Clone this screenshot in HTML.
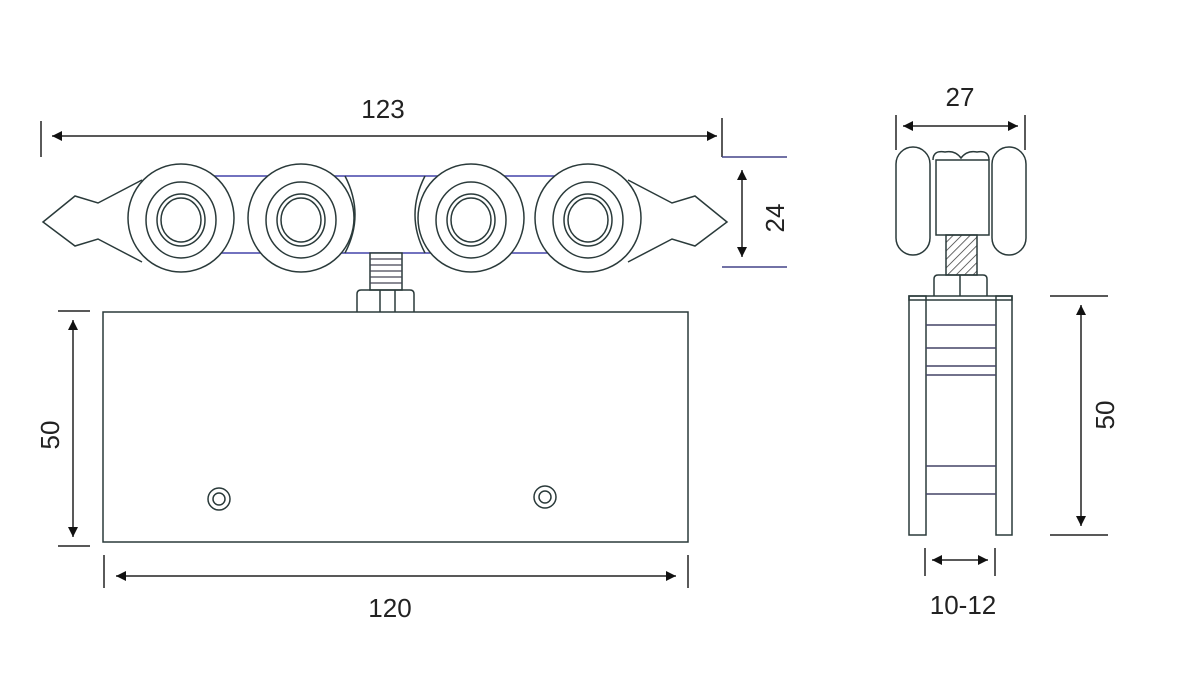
<!DOCTYPE html>
<html><head><meta charset="utf-8"><style>
html,body{margin:0;padding:0;background:#fff;}
svg{display:block;}
text{font-family:"Liberation Sans",sans-serif;font-size:26px;fill:#222;}
</style></head><body>
<svg width="1181" height="693" viewBox="0 0 1181 693" xmlns="http://www.w3.org/2000/svg">
<defs>
<marker id="a" viewBox="0 0 10 10" refX="10" refY="5" markerWidth="14" markerHeight="10" orient="auto-start-reverse" markerUnits="userSpaceOnUse"><path d="M0,0 L10,5 L0,10 z" fill="#111"/></marker>
<pattern id="h" width="6" height="6" patternUnits="userSpaceOnUse" patternTransform="rotate(45)"><line x1="0" y1="0" x2="0" y2="6" stroke="#333" stroke-width="1.5"/></pattern>
</defs>
<g fill="none" stroke="#2a3a3a" stroke-width="1.5">
<!-- wings -->
<path d="M142,180 L98,203 L75,196 L43,222 L75,246 L98,239 L142,262" fill="#fff"/>
<path d="M628,180 L672,203 L695,196 L727,222 L695,246 L672,239 L628,262" fill="#fff"/>
<!-- body -->
<line x1="181" y1="176" x2="588" y2="176" stroke="#44a"/>
<line x1="181" y1="253" x2="588" y2="253" stroke="#44a"/>
<path d="M345,176 Q365,215 345,253"/>
<path d="M425,176 Q405,215 425,253"/>
<!-- screw -->
<rect x="370" y="253" width="32" height="37" fill="#fff"/>
<g stroke="#445" stroke-width="1.2">
<line x1="370" y1="259" x2="402" y2="259"/><line x1="370" y1="265" x2="402" y2="265"/><line x1="370" y1="271" x2="402" y2="271"/><line x1="370" y1="277" x2="402" y2="277"/><line x1="370" y1="283" x2="402" y2="283"/></g>
<path d="M357,312 L357,294 Q357,290 361,290 L410,290 Q414,290 414,294 L414,312"/>
<line x1="380" y1="290" x2="380" y2="312"/><line x1="395" y1="290" x2="395" y2="312"/>
<!-- rollers -->
<g fill="#fff">
<ellipse cx="181" cy="218" rx="53" ry="54"/><ellipse cx="301" cy="218" rx="53" ry="54"/>
<ellipse cx="471" cy="218" rx="53" ry="54"/><ellipse cx="588" cy="218" rx="53" ry="54"/>
</g>
<g>
<ellipse cx="181" cy="220" rx="35" ry="38"/><ellipse cx="181" cy="220" rx="24" ry="26"/><ellipse cx="181" cy="220" rx="20" ry="22"/>
<ellipse cx="301" cy="220" rx="35" ry="38"/><ellipse cx="301" cy="220" rx="24" ry="26"/><ellipse cx="301" cy="220" rx="20" ry="22"/>
<ellipse cx="471" cy="220" rx="35" ry="38"/><ellipse cx="471" cy="220" rx="24" ry="26"/><ellipse cx="471" cy="220" rx="20" ry="22"/>
<ellipse cx="588" cy="220" rx="35" ry="38"/><ellipse cx="588" cy="220" rx="24" ry="26"/><ellipse cx="588" cy="220" rx="20" ry="22"/>
</g>
<!-- box -->
<rect x="103" y="312" width="585" height="230"/>
<circle cx="219" cy="499" r="11"/><circle cx="219" cy="499" r="6"/>
<circle cx="545" cy="497" r="11"/><circle cx="545" cy="497" r="6"/>
<!-- side view -->
<rect x="896" y="147" width="34" height="108" rx="17"/>
<rect x="992" y="147" width="34" height="108" rx="17"/>
<path d="M933,160 Q933,150 945,152 Q955,150 961,158 Q967,150 977,152 Q989,150 989,160"/>
<rect x="936" y="160" width="53" height="75" fill="#fff"/>
<rect x="946" y="235" width="31" height="40" fill="url(#h)"/>
<path d="M934,296 L934,279 Q934,275 938,275 L983,275 Q987,275 987,279 L987,296"/>
<line x1="960" y1="275" x2="960" y2="296"/>
<rect x="909" y="296" width="103" height="4"/>
<rect x="909" y="296" width="17" height="239"/>
<rect x="996" y="296" width="16" height="239"/>
<g stroke="#446"><line x1="926" y1="325" x2="996" y2="325"/><line x1="926" y1="348" x2="996" y2="348"/><line x1="926" y1="366" x2="996" y2="366"/><line x1="926" y1="375" x2="996" y2="375"/><line x1="926" y1="466" x2="996" y2="466"/><line x1="926" y1="494" x2="996" y2="494"/></g>
</g>
<!-- dimensions -->
<g stroke="#222" stroke-width="1.5" fill="none">
<line x1="41" y1="121" x2="41" y2="157"/><line x1="722" y1="118" x2="722" y2="157"/>
<line x1="52" y1="136" x2="717" y2="136" marker-start="url(#a)" marker-end="url(#a)"/>
<line x1="722" y1="157" x2="787" y2="157" stroke="#448"/><line x1="722" y1="267" x2="787" y2="267" stroke="#448"/>
<line x1="742" y1="170" x2="742" y2="257" marker-start="url(#a)" marker-end="url(#a)"/>
<line x1="58" y1="311" x2="90" y2="311"/><line x1="58" y1="546" x2="90" y2="546"/>
<line x1="73" y1="320" x2="73" y2="537" marker-start="url(#a)" marker-end="url(#a)"/>
<line x1="104" y1="555" x2="104" y2="588"/><line x1="688" y1="555" x2="688" y2="588"/>
<line x1="116" y1="576" x2="676" y2="576" marker-start="url(#a)" marker-end="url(#a)"/>
<line x1="896" y1="115" x2="896" y2="150"/><line x1="1025" y1="115" x2="1025" y2="150"/>
<line x1="903" y1="126" x2="1018" y2="126" marker-start="url(#a)" marker-end="url(#a)"/>
<line x1="1050" y1="296" x2="1108" y2="296"/><line x1="1050" y1="535" x2="1108" y2="535"/>
<line x1="1081" y1="305" x2="1081" y2="526" marker-start="url(#a)" marker-end="url(#a)"/>
<line x1="925" y1="548" x2="925" y2="576"/><line x1="995" y1="548" x2="995" y2="576"/>
<line x1="932" y1="560" x2="988" y2="560" marker-start="url(#a)" marker-end="url(#a)"/>
</g>
<text x="383" y="118" text-anchor="middle">123</text>
<text x="390" y="617" text-anchor="middle">120</text>
<text x="960" y="106" text-anchor="middle">27</text>
<text x="963" y="614" text-anchor="middle">10-12</text>
<text transform="translate(784,218) rotate(-90)" text-anchor="middle">24</text>
<text transform="translate(59,435) rotate(-90)" text-anchor="middle">50</text>
<text transform="translate(1114,415) rotate(-90)" text-anchor="middle">50</text>
</svg>
</body></html>
